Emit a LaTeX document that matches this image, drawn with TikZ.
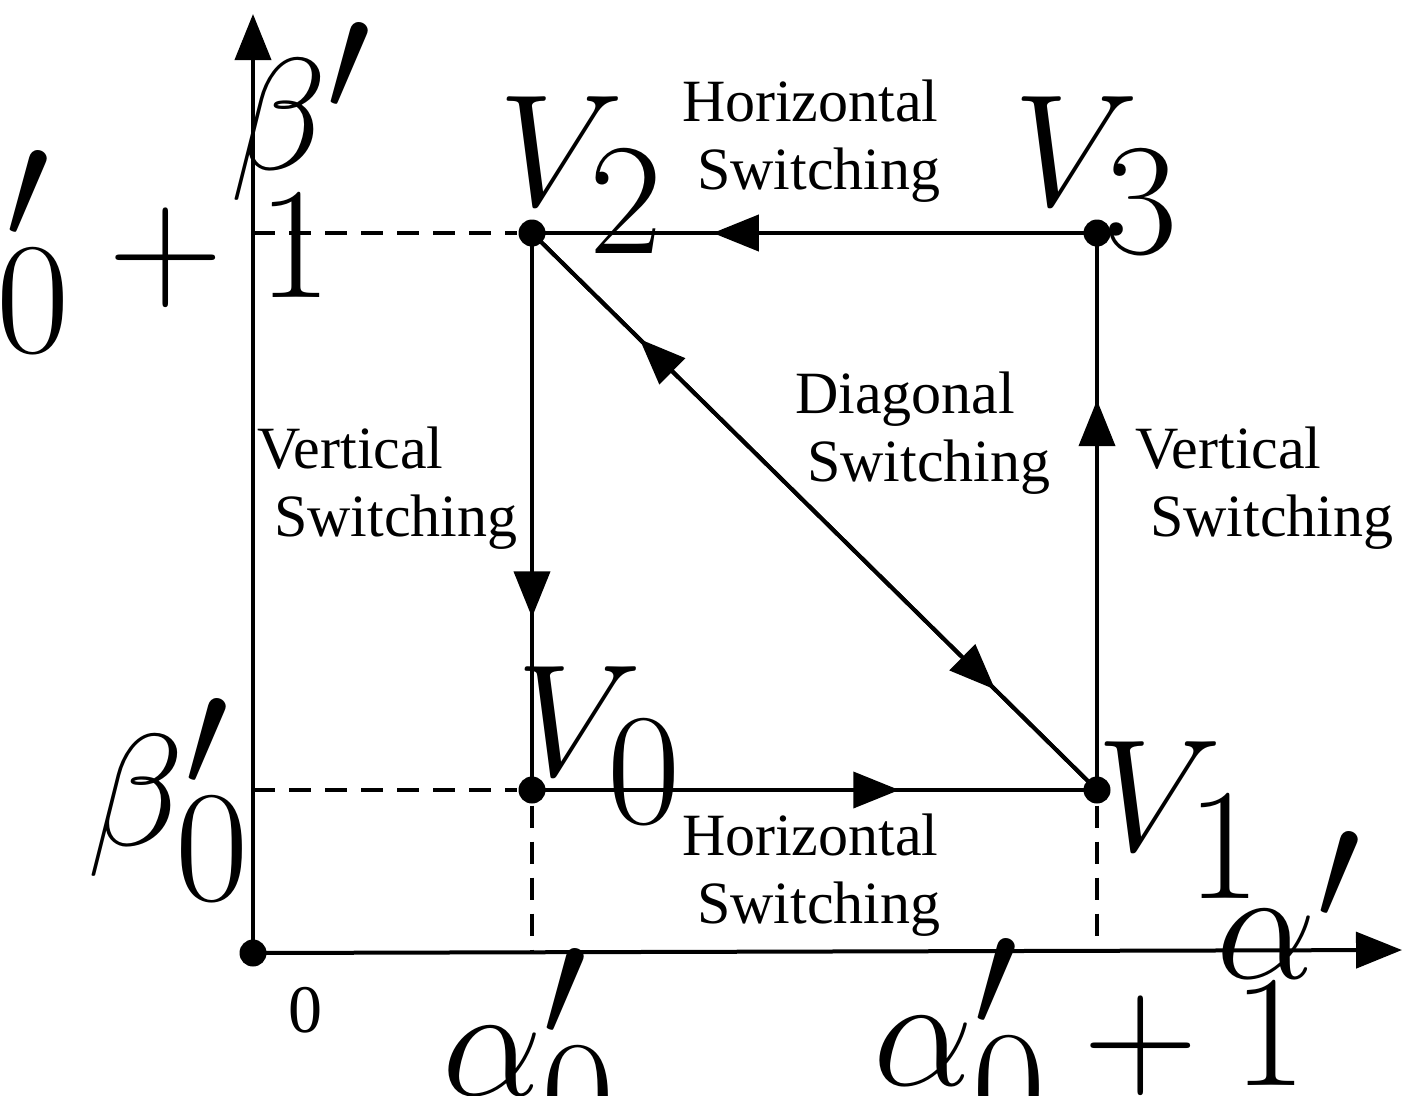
\documentclass[tikz,border=0pt]{standalone}
\usepackage{fontspec}
\usepackage{graphicx}
\setmainfont{Liberation Serif}
\usetikzlibrary{arrows.meta,decorations.markings}
\newcommand\mym[1]{\scalebox{6.4}{$#1$}}
\begin{document}
\begin{tikzpicture}[x=1pt,y=-1pt,line width=4pt,
  lbl/.style={font=\fontsize{60}{68}\selectfont,align=left,anchor=north west,inner sep=0pt},
  mth/.style={font=\fontsize{68}{72}\selectfont},
  dot/.style={circle,fill,inner sep=0pt,minimum size=27pt},
  dsh/.style={dash pattern=on 22pt off 14pt},
  mid/.style={postaction=decorate,decoration={markings,mark=at position #1 with {\arrow{Triangle[length=46pt,width=36pt]}}}}]
\useasboundingbox (0,0) rectangle (1416,1095);
\node[dot] (O) at (253,953) {};
\node[dot] (V0) at (532,790) {};
\node[dot] (V1) at (1097,790) {};
\node[dot] (V2) at (532,233) {};
\node[dot] (V3) at (1097,233) {};
\coordinate (xe) at (1402,950);
\coordinate (ye) at (253,14);
\coordinate (b1) at (253,233);
\coordinate (b0) at (253,790);
\coordinate (a0) at (532,950);
\coordinate (a1) at (1097,950);
\draw[-{Triangle[length=46pt,width=36pt]}] (O.center) -- (xe);
\draw[-{Triangle[length=46pt,width=36pt]}] (O.center) -- (ye);
\draw[dsh] (b1) -- (V2); \draw[dsh] (b0) -- (V0);
\draw[dsh] (V0) -- (a0); \draw[dsh] (V1) -- (a1);
\draw[mid=0.68] (V3.center) -- (V2.center);
\draw[mid=0.65] (V0.center) -- (V1.center);
\draw[mid=0.69] (V2.center) -- (V0.center);
\draw[mid=0.7] (V1.center) -- (V3.center);
\draw[mid=0.81] (V1.center) -- (V2.center);
\draw[mid=0.82] (V2.center) -- (V1.center);
\node[mth] (lb) at (302,112) {\mym{\beta'}};
\node[mth] (lb1) at (120,252) {\mym{\beta'_0+1}};
\node[mth] (lb0) at (170,800) {\mym{\beta'_0}};
\node[mth] (l0) at (305,1010) {0};
\node[mth] (la0) at (530,1050) {\mym{\alpha'_0}};
\node[mth] (la1) at (1090,1040) {\mym{\alpha'_0+1}};
\node[mth] (la) at (1290,905) {\mym{\alpha'}};
\node[mth] (lV2) at (582,175) {\mym{V_2}};
\node[mth] (lV3) at (1097,175) {\mym{V_3}};
\node[mth] (lV0) at (600,745) {\mym{V_0}};
\node[mth] (lV1) at (1180,820) {\mym{V_1}};
\node[lbl] (t1) at (680,78) {Horizontal\\\hspace*{15pt}Switching};
\node[lbl] (t2) at (680,812) {Horizontal\\\hspace*{15pt}Switching};
\node[lbl] (t3) at (793,370) {Diagonal\\\hspace*{12pt}Switching};
\node[lbl] (t4) at (255,425) {Vertical\\\hspace*{17pt}Switching};
\node[lbl] (t5) at (1133,425) {Vertical\\\hspace*{15pt}Switching};
\end{tikzpicture}
\end{document}
